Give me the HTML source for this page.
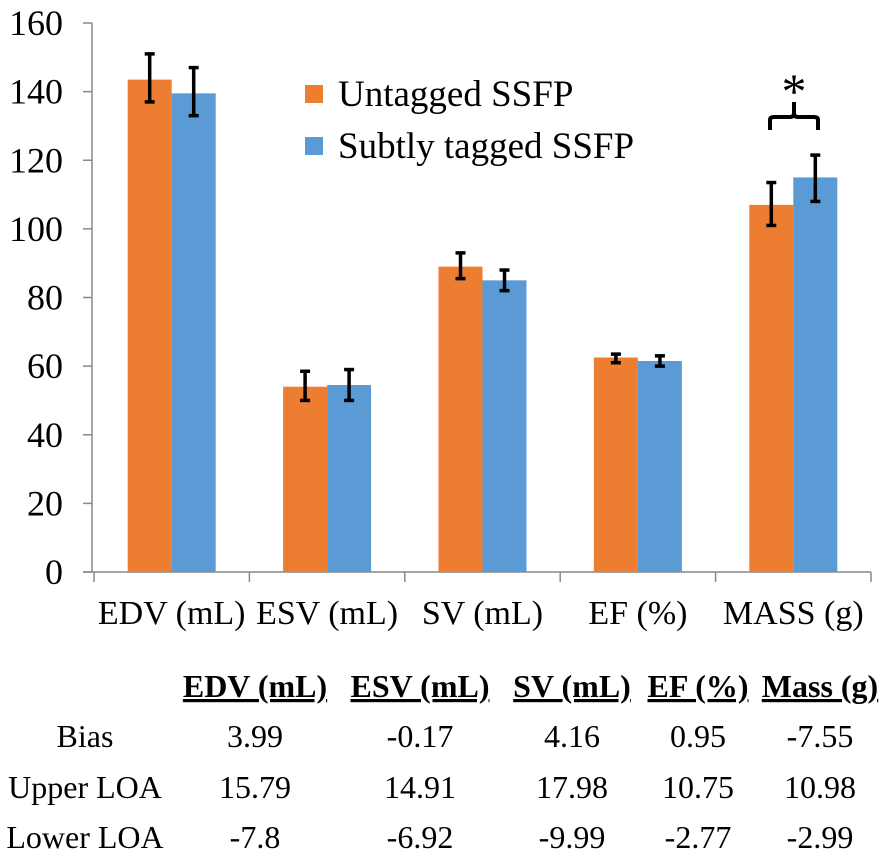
<!DOCTYPE html>
<html><head><meta charset="utf-8"><style>
body{margin:0;background:#fff;width:889px;height:863px;overflow:hidden}
svg text{font-family:"Liberation Serif",serif;fill:#000}
</style></head><body>
<svg id="c" width="889" height="863" xmlns="http://www.w3.org/2000/svg"></svg>
<script>
const categories=["EDV (mL)","ESV (mL)","SV (mL)","EF (%)","MASS (g)"];
const untagged=[143.5,54,89,62.5,107];
const untaggedLo=[137,50,85.5,61,101];
const untaggedHi=[151,58.5,93,63.5,113.5];
const tagged=[139.5,54.5,85,61.5,115];
const taggedLo=[133,50,82,60,108];
const taggedHi=[147,59,88,63,121.5];
const yTicks=[0,20,40,60,80,100,120,140,160];
const tableHeaders=["EDV (mL)","ESV (mL)","SV (mL)","EF (%)","Mass (g)"];
const rowLabels=["Bias","Upper LOA","Lower LOA"];
const tableRows=[["3.99","-0.17","4.16","0.95","-7.55"],["15.79","14.91","17.98","10.75","10.98"],["-7.8","-6.92","-9.99","-2.77","-2.99"]];
const NS="http://www.w3.org/2000/svg";
const svg=document.getElementById('c');
function mk(t,a,p){const e=document.createElementNS(NS,t);for(const k in a)e.setAttribute(k,a[k]);(p||svg).appendChild(e);return e;}
const y0=572,pxu=549/160,x0=94,cw=155.4,bw=44;
const Y=v=>y0-v*pxu, X=i=>x0+i*cw;
yTicks.forEach(v=>{const t=mk('text',{x:63,y:Y(v)+12,'text-anchor':'end','font-size':36});t.textContent=v;

});
let ya=mk('line',{x1:92,y1:Y(160),x2:92,y2:y0,stroke:'#888','stroke-width':1.5});


yTicks.forEach(v=>{const l=mk('line',{x1:83,y1:Y(v),x2:92,y2:Y(v),stroke:'#888','stroke-width':1.5});

});
let ax=mk('line',{x1:83,y1:y0,x2:871,y2:y0,stroke:'#888','stroke-width':1.5});


for(let i=0;i<=categories.length;i++){const l=mk('line',{x1:X(i),y1:y0,x2:X(i),y2:y0+10,stroke:'#888','stroke-width':1.5});

}
function err(cx,lo,hi){const g=mk('g',{stroke:'#000','stroke-width':3.5});
mk('line',{x1:cx,y1:Y(lo),x2:cx,y2:Y(hi)},g);mk('line',{x1:cx-5,y1:Y(lo),x2:cx+5,y2:Y(lo)},g);mk('line',{x1:cx-5,y1:Y(hi),x2:cx+5,y2:Y(hi)},g);

}
categories.forEach((c,i)=>{const s=X(i)+cw/2-bw;
const a=mk('rect',{x:s,y:Y(untagged[i]),width:bw,height:untagged[i]*pxu,fill:'#ed7d31'});


const b=mk('rect',{x:s+bw,y:Y(tagged[i]),width:bw,height:tagged[i]*pxu,fill:'#5b9bd5'});


err(s+bw/2,untaggedLo[i],untaggedHi[i]);err(s+bw*1.5,taggedLo[i],taggedHi[i]);
const t=mk('text',{x:X(i)+cw/2,y:624,'text-anchor':'middle','font-size':34});t.textContent=c;

});
[["#ed7d31","Untagged SSFP",94],["#5b9bd5","Subtly tagged SSFP",146]].forEach(([col,txt,yy])=>{
const g=mk('g',{});mk('rect',{x:305,y:yy-9,width:18,height:18,fill:col},g);
const t=mk('text',{x:338,y:yy+12,'font-size':37},g);t.textContent=txt;

});
const br=mk('path',{d:'M770,130 L770,120 Q770,117 774,117 L790,117 Q794,117 794,113 L794,102 M794,113 Q794,117 798,117 L814,117 Q818,117 818,120 L818,130',fill:'none',stroke:'#000','stroke-width':4});


const st=mk('text',{x:794,y:108,'text-anchor':'middle','font-size':50});st.textContent='*';


const colX=[255,420,572,698,820];
tableHeaders.forEach((h,i)=>{const t=mk('text',{x:colX[i],y:697,'text-anchor':'middle','font-size':32,'font-weight':'bold','text-decoration':'underline'});t.textContent=h;

});
const rowY=[747,798,848];
rowLabels.forEach((r,j)=>{const t=mk('text',{x:85,y:rowY[j],'text-anchor':'middle','font-size':32});t.textContent=r;


tableRows[j].forEach((v,i)=>{const c=mk('text',{x:colX[i],y:rowY[j],'text-anchor':'middle','font-size':32});c.textContent=v;

});});
</script>
</body></html>
